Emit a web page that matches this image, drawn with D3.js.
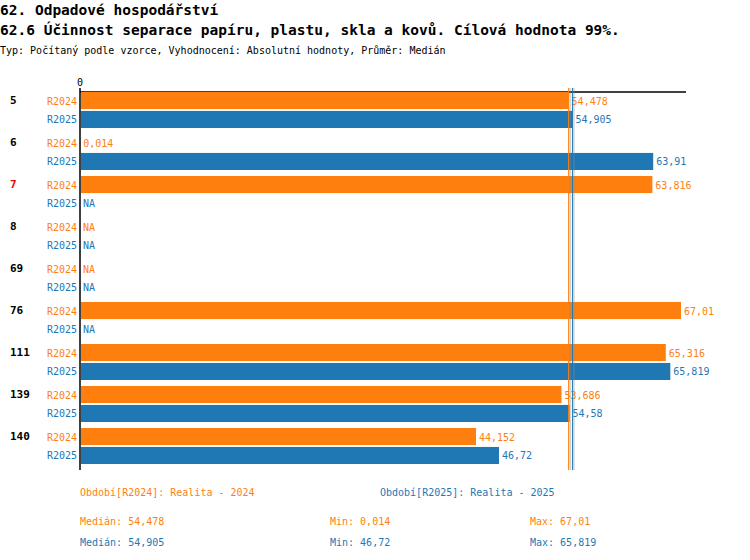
<!DOCTYPE html>
<html><head><meta charset="utf-8">
<script src="https://cdn.jsdelivr.net/npm/d3@7"></script>
<style>body{margin:0;background:#fff}text{font-family:"DejaVu Sans Mono",monospace}</style>
</head><body><svg id="c" width="750" height="560"></svg>
<script>
const groups = ["5", "6", "7", "8", "69", "76", "111", "139", "140"];
const v2024 = [54.478, 0.014, 63.816, null, null, 67.01, 65.316, 53.686, 44.152];
const v2025 = [54.905, 63.91, null, null, null, null, 65.819, 54.58, 46.72];
const medians = [54.478, 54.905];
const series = ["R2024", "R2025"];
const colors = ["#ff7f0e", "#1f77b4"];
const redGroups = ["7"];

const svg = d3.select("#c");
const fmt = v => v == null ? "NA" : String(v).replace(".", ",");
svg.append("text").attr("x", 0).attr("y", 15).attr("font-size", 14.5).attr("font-weight", "bold").text("62. Odpadové hospodářství");
svg.append("text").attr("x", 0).attr("y", 35).attr("font-size", 14.5).attr("font-weight", "bold").text("62.6 Účinnost separace papíru, plastu, skla a kovů. Cílová hodnota 99%.");
svg.append("text").attr("x", 0).attr("y", 54).attr("font-size", 10).text("Typ: Počítaný podle vzorce, Vyhodnocení: Absolutní hodnoty, Průměr: Medián");

const x = d3.scaleLinear().domain([0, 67.01]).range([80, 681]);
const y = d3.scaleBand().domain(groups).range([79, 79 + 42 * groups.length]);
const sub = d3.scaleBand().domain(series).range([13, 49]).paddingInner(0.1);

svg.append("line").attr("x1", 80).attr("x2", 686).attr("y1", 92).attr("y2", 92).attr("stroke", "#000").attr("stroke-width", 1.5);
svg.append("line").attr("x1", 80).attr("x2", 80).attr("y1", 88).attr("y2", 470).attr("stroke", "#000").attr("stroke-width", 1.5);
svg.append("text").attr("x", 80).attr("y", 86).attr("font-size", 10).attr("text-anchor", "middle").text("0");

groups.forEach((g, gi) => {
  svg.append("text").attr("x", 10).attr("y", y(g) + 25).attr("font-size", 11).attr("font-weight", "bold")
    .attr("fill", redGroups.includes(g) ? "#e00" : "#000").text(g);
  [v2024, v2025].forEach((arr, si) => {
    const v = arr[gi], yy = y(g) + sub(series[si]);
    const h = sub.bandwidth();
    svg.append("text").attr("x", 77).attr("y", yy + h / 2 + 4).attr("text-anchor", "end").attr("font-size", 10).attr("fill", colors[si]).text(series[si]);
    if (v != null) svg.append("rect").attr("x", x(0) + 1).attr("y", yy).attr("width", Math.max(0, x(v) - x(0) - 1)).attr("height", h).attr("fill", colors[si]);
    svg.append("text").attr("x", (v == null ? x(0) : x(v)) + 3).attr("y", yy + h / 2 + 4).attr("font-size", 10).attr("fill", colors[si]).text(fmt(v));
  });
});

medians.forEach((m, i) => {
  svg.append("line").attr("x1", x(m)).attr("x2", x(m)).attr("y1", 88).attr("y2", 470).attr("stroke", colors[i]).attr("stroke-width", 1);
  svg.append("line").attr("x1", x(m) + 1.5).attr("x2", x(m) + 1.5).attr("y1", 88).attr("y2", 470).attr("stroke", "#888").attr("stroke-width", 0.6);
});

const all = [v2024, v2025].map(a => a.filter(v => v != null));
const foot = [["Období[R2024]: Realita - 2024", 80], ["Období[R2025]: Realita - 2025", 380]];
foot.forEach((f, i) => svg.append("text").attr("x", f[1]).attr("y", 496).attr("font-size", 10).attr("fill", colors[i]).text(f[0]));
all.forEach((a, i) => {
  const yy = 525 + 21 * i;
  svg.append("text").attr("x", 80).attr("y", yy).attr("font-size", 10).attr("fill", colors[i]).text("Medián: " + fmt(medians[i]));
  svg.append("text").attr("x", 330).attr("y", yy).attr("font-size", 10).attr("fill", colors[i]).text("Min: " + fmt(d3.min(a)));
  svg.append("text").attr("x", 530).attr("y", yy).attr("font-size", 10).attr("fill", colors[i]).text("Max: " + fmt(d3.max(a)));
});
</script></body></html>
